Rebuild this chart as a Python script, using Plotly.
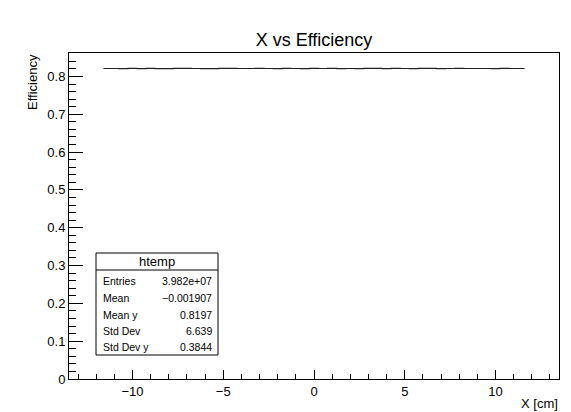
import plotly.graph_objects as go

# Data
x_cm = [-11.6, -11.0, -10.5, -10.0, -9.5, -9.0, -8.5, -8.0, -7.5, -7.0, -6.5, -6.0,
        -5.5, -5.0, -4.5, -4.0, -3.5, -3.0, -2.5, -2.0, -1.5, -1.0, -0.5, 0.0,
        0.5, 1.0, 1.5, 2.0, 2.5, 3.0, 3.5, 4.0, 4.5, 5.0, 5.5, 6.0, 6.5, 7.0,
        7.5, 8.0, 8.5, 9.0, 9.5, 10.0, 10.5, 11.0, 11.6]
efficiency = [0.8210, 0.8210, 0.8205, 0.8212, 0.8208, 0.8214, 0.8209, 0.8206, 0.8211, 0.8213, 0.8210, 0.8209,
              0.8207, 0.8212, 0.8214, 0.8210, 0.8210, 0.8211, 0.8210, 0.8206, 0.8213, 0.8210, 0.8208, 0.8211,
              0.8210, 0.8213, 0.8209, 0.8210, 0.8206, 0.8211, 0.8212, 0.8209, 0.8213, 0.8210, 0.8207, 0.8211,
              0.8212, 0.8209, 0.8210, 0.8211, 0.8210, 0.8210, 0.8210, 0.8207, 0.8212, 0.8210, 0.8210]

stats_labels = ["Entries", "Mean", "Mean y", "Std Dev", "Std Dev y"]
stats_values = ["3.982e+07", "\u22120.001907", "0.8197", "6.639", "0.3844"]

# page is 571x412; the HTML body has an 8px margin, so compensate
OFF = 8
W, H = 571 - OFF, 412 - OFF
L, R, T, B = 69, 559, 53, 379  # frame edges in page pixels

def px(xp):
    return (xp - L) / (R - L)

def py(yp):
    return (B - yp) / (B - T)

fig = go.Figure()
fig.add_trace(go.Scatter(x=x_cm, y=efficiency, mode="lines",
                         line=dict(color="#222222", width=1.2, shape="hvh"),
                         showlegend=False, hoverinfo="skip"))

font = "Liberation Sans, Arial, Helvetica, sans-serif"

fig.update_layout(
    width=W, height=H,
    margin=dict(l=L - OFF, r=571 - R, t=T - OFF, b=412 - B),
    paper_bgcolor="white", plot_bgcolor="white",
    font=dict(family=font, color="black", size=13),
    title=dict(text="X vs Efficiency", x=(314 - OFF) / W, xanchor="center",
               y=1 - (40 - OFF) / H, yanchor="middle", font=dict(size=18, family=font)),
    xaxis=dict(range=[-13.5, 13.5], tick0=0, dtick=5, ticks="inside", ticklen=9,
               tickcolor="black", linecolor="black", linewidth=1, mirror=True,
               showgrid=False, zeroline=False,
               minor=dict(dtick=1, tick0=0, ticks="inside", ticklen=5, tickcolor="black", showgrid=False),
               tickfont=dict(size=13)),
    yaxis=dict(range=[0, 0.862], tick0=0, dtick=0.1, ticks="inside", ticklen=14,
               tickcolor="black", linecolor="black", linewidth=1, mirror=True,
               showgrid=False, zeroline=False,
               minor=dict(dtick=0.02, tick0=0, ticks="inside", ticklen=7, tickcolor="black", showgrid=False),
               tickfont=dict(size=13)),
)

# Axis titles (ROOT-style placement)
fig.add_annotation(text="Efficiency", xref="paper", yref="paper",
                   x=px(32), y=py(52), xanchor="center", yanchor="top",
                   textangle=-90, showarrow=False, font=dict(size=13))
fig.add_annotation(text="X [cm]", xref="paper", yref="paper",
                   x=px(560), y=py(403), xanchor="right", yanchor="middle",
                   showarrow=False, font=dict(size=13))

# Stats box
bx0, bx1, by0, by1, hy = 96, 218, 253, 355, 270
fig.add_shape(type="rect", xref="paper", yref="paper",
              x0=px(bx0), x1=px(bx1), y0=py(by1), y1=py(by0),
              line=dict(color="black", width=1), fillcolor="white", layer="above")
fig.add_shape(type="line", xref="paper", yref="paper",
              x0=px(bx0), x1=px(bx1), y0=py(hy), y1=py(hy),
              line=dict(color="black", width=1), layer="above")
fig.add_annotation(text="htemp", xref="paper", yref="paper",
                   x=px((bx0 + bx1) / 2), y=py(261.5), xanchor="center", yanchor="middle",
                   showarrow=False, font=dict(size=13))
row_y = [281, 298, 315, 331, 347]
for lab, val, ry in zip(stats_labels, stats_values, row_y):
    fig.add_annotation(text=lab, xref="paper", yref="paper", x=px(101), y=py(ry),
                       xanchor="left", yanchor="middle", showarrow=False, font=dict(size=10.5))
    fig.add_annotation(text=val, xref="paper", yref="paper", x=px(214), y=py(ry),
                       xanchor="right", yanchor="middle", showarrow=False, font=dict(size=10.5))

fig.write_html("out.html")
